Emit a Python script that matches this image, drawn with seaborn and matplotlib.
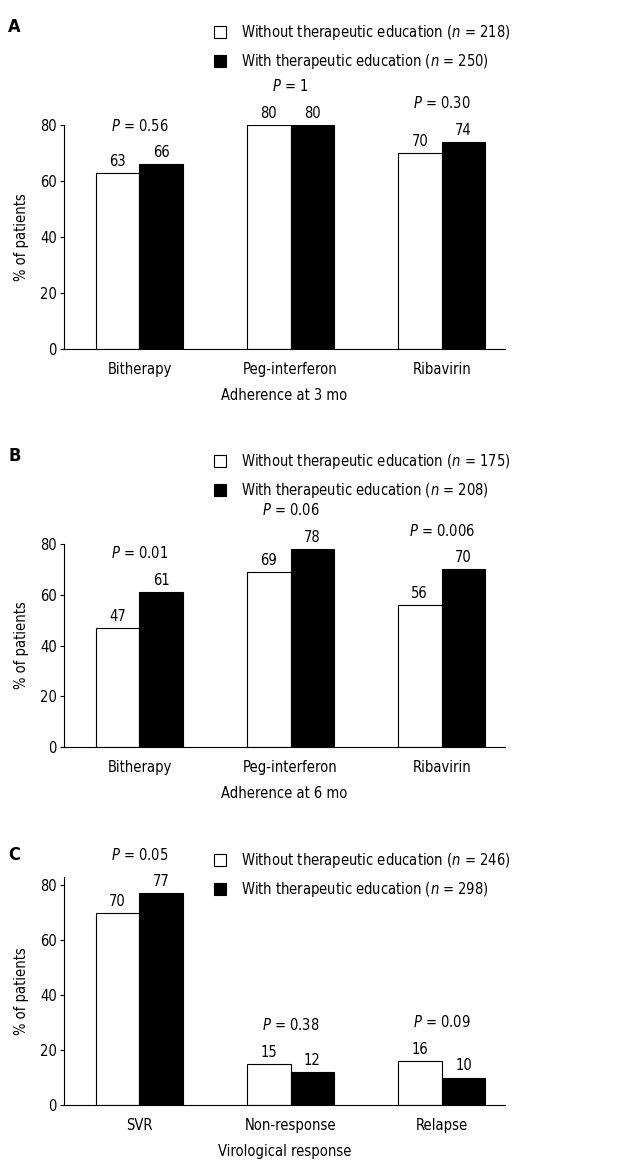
import matplotlib
matplotlib.use("Agg")
import matplotlib.pyplot as plt
from matplotlib.patches import Patch
import seaborn as sns
import pandas as pd

# Panel A - adherence at 3 months
cats_a = ["Bitherapy", "Peg-interferon", "Ribavirin"]
without_a = [63, 80, 70]
with_a = [66, 80, 74]
p_a = ["0.56", "1", "0.30"]
n_a = [218, 250]

# Panel B - adherence at 6 months
cats_b = ["Bitherapy", "Peg-interferon", "Ribavirin"]
without_b = [47, 69, 56]
with_b = [61, 78, 70]
p_b = ["0.01", "0.06", "0.006"]
n_b = [175, 208]

# Panel C - virological response
cats_c = ["SVR", "Non-response", "Relapse"]
without_c = [70, 15, 16]
with_c = [77, 12, 10]
p_c = ["0.05", "0.38", "0.09"]
n_c = [246, 298]

yticks = [0, 20, 40, 60, 80]

sns.set_style("ticks")
plt.rcParams["font.family"] = ["DejaVu Sans"]
plt.rcParams["font.stretch"] = "condensed"
plt.rcParams["font.size"] = 10.5
plt.rcParams["mathtext.fontset"] = "dejavusans"
plt.rcParams["text.color"] = "black"
plt.rcParams["axes.labelcolor"] = "black"
plt.rcParams["xtick.color"] = "black"
plt.rcParams["ytick.color"] = "black"
plt.rcParams["axes.edgecolor"] = "black"

fs = 10.5
fig = plt.figure(figsize=(6.33, 11.6), dpi=100)

panels = [
    ("A", cats_a, without_a, with_a, p_a, n_a, "Adherence at 3 mo",
     [0.101, 0.699, 0.697, 0.193], 80, 23),
    ("B", cats_b, without_b, with_b, p_b, n_b, "Adherence at 6 mo",
     [0.101, 0.356, 0.697, 0.175], 80, 452),
    ("C", cats_c, without_c, with_c, p_c, n_c, "Virological response",
     [0.101, 0.0474, 0.697, 0.1966], 83, 851),
]

for letter, cats, wo, wi, pvals, n, xlab, rect, ytop, leg_top in panels:
    ax = fig.add_axes(rect)
    df = pd.DataFrame({
        "cat": cats * 2,
        "value": wo + wi,
        "group": ["without"] * len(cats) + ["with"] * len(cats),
    })
    sns.barplot(data=df, x="cat", y="value", hue="group",
                palette={"without": "white", "with": "black"},
                edgecolor="black", linewidth=0.8, width=0.58, gap=0,
                saturation=1, legend=False, ax=ax)

    ax.bar_label(ax.containers[0], labels=[str(v) for v in wo], padding=3, fontsize=fs)
    ax.bar_label(ax.containers[1], labels=[str(v) for v in wi], padding=3, fontsize=fs)

    for i, p in enumerate(pvals):
        ax.annotate(f"$P$ = {p}", xy=(i, max(wo[i], wi[i])), xytext=(0, 28),
                    textcoords="offset points", ha="center", va="center",
                    fontsize=fs, annotation_clip=False)

    ax.set_xlim(-0.5, 2.42)
    ax.set_ylim(0, ytop)
    ax.set_yticks(yticks)
    ax.set_ylabel("% of patients", fontsize=fs, labelpad=8)
    ax.set_xlabel(xlab, fontsize=fs, labelpad=8)
    ax.tick_params(axis="x", length=0, pad=9, labelsize=fs)
    ax.tick_params(axis="y", length=3, width=0.8, pad=2, labelsize=fs)
    sns.despine(ax=ax)
    for s in ["left", "bottom"]:
        ax.spines[s].set_linewidth(0.8)

    handles = [Patch(facecolor="white", edgecolor="black", linewidth=0.8),
               Patch(facecolor="black", edgecolor="black", linewidth=0.8)]
    labels = [f"Without therapeutic education ($n$ = {n[0]})",
              f"With therapeutic education ($n$ = {n[1]})"]
    fig.legend(handles, labels, loc="upper left",
               bbox_to_anchor=(214 / 633, 1 - leg_top / 1160),
               frameon=False, borderaxespad=0, borderpad=0,
               handlelength=0.85, handleheight=0.85, handletextpad=1.0,
               labelspacing=0.7, fontsize=fs)

    fig.text(8 / 633, 1 - (leg_top + 4) / 1160, letter, fontsize=13,
             fontweight="bold", ha="left", va="center")

fig.savefig("out.png", dpi=100)
